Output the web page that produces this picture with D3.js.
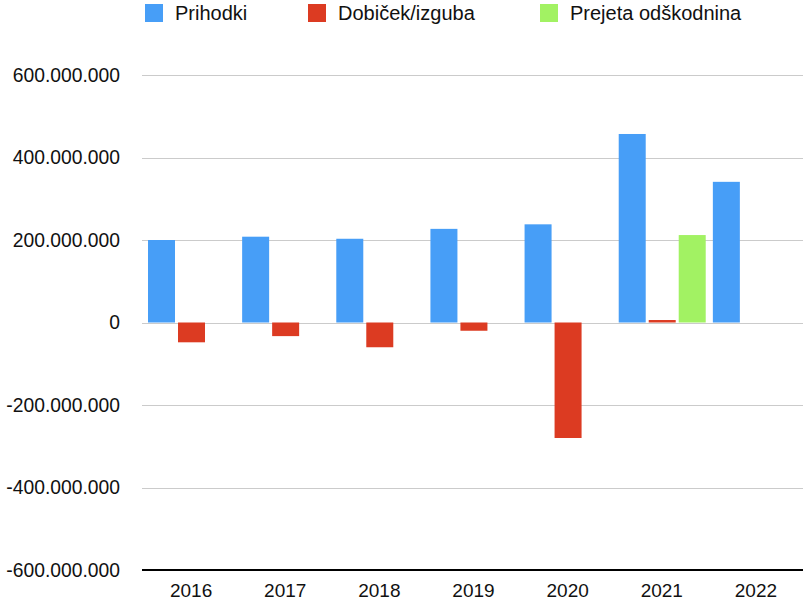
<!DOCTYPE html>
<html><head><meta charset="utf-8">
<script src="https://cdn.jsdelivr.net/npm/d3@7/dist/d3.min.js"></script>
<style>body{margin:0;background:#fff}svg{display:block}text{font-family:"Liberation Sans",Arial,Helvetica,sans-serif;fill:#111}</style>
</head><body><svg id="c" width="806" height="601"></svg>
<script>
const years = ["2016","2017","2018","2019","2020","2021","2022"];
const seriesNames = ["Prihodki","Dobiček/izguba","Prejeta odškodnina"];
const prihodki = [200e6, 208e6, 203e6, 227e6, 238e6, 457e6, 341e6];
const dobicek = [-48e6, -33e6, -60e6, -20e6, -280e6, 6e6, null];
const odskodnina = [null, null, null, null, null, 212e6, null];
const yTicks = [-600e6, -400e6, -200e6, 0, 200e6, 400e6, 600e6];
const colors = ["#479ef7", "#dc3b22", "#a2f263"];

const svg = d3.select("#c");
const x0 = d3.scaleBand().domain(years).range([144, 803]);
const x1 = d3.scaleBand().domain([0,1,2]).range([4, 91]).paddingInner(0.1);
const y = d3.scaleLinear().domain([-600e6, 600e6]).range([570, 75]);

const fmt = v => v === 0 ? "0" : d3.format(",")(v).replace(/,/g, ".").replace("−","-");

// grid
svg.append("g").selectAll("line").data(yTicks.filter(t => t !== -600e6)).join("line")
  .attr("x1", 142).attr("x2", 803)
  .attr("y1", d => Math.round(y(d)) + 0.5).attr("y2", d => Math.round(y(d)) + 0.5)
  .attr("stroke", "#cbcbcb").attr("stroke-width", 1);

// y labels
svg.append("g").selectAll("text").data(yTicks).join("text")
  .attr("x", 120).attr("y", d => y(d)).attr("dy", "0.35em")
  .attr("text-anchor", "end").style("font-size", "19.3px").text(fmt);

// bars
const data = [prihodki, dobicek, odskodnina];
data.forEach((arr, si) => {
  svg.append("g").selectAll("rect").data(years.map((yr, i) => ({yr, v: arr[i]})).filter(d => d.v != null)).join("rect")
    .attr("x", d => x0(d.yr) + x1(si))
    .attr("width", x1.bandwidth())
    .attr("y", d => y(Math.max(0, d.v)))
    .attr("height", d => Math.abs(y(d.v) - y(0)))
    .attr("fill", colors[si]);
});

// bottom axis
const xAxis = d3.axisBottom(x0).tickSize(0).tickPadding(14);
const ax = svg.append("g").attr("transform", "translate(0,570)").call(xAxis);
ax.select(".domain").attr("stroke", "#000").attr("stroke-width", 2).attr("d", "M142,0H803");
ax.selectAll("text").style("font-size", "19px").attr("fill", "#111");

// legend
const legX = [145, 308, 540];
const lg = svg.append("g");
seriesNames.forEach((n, i) => {
  lg.append("rect").attr("x", legX[i]).attr("y", 4).attr("width", 18).attr("height", 18).attr("fill", colors[i]);
  lg.append("text").attr("x", legX[i] + 30).attr("y", 13).attr("dy", "0.35em").style("font-size", "20px").text(n);
});
</script></body></html>
